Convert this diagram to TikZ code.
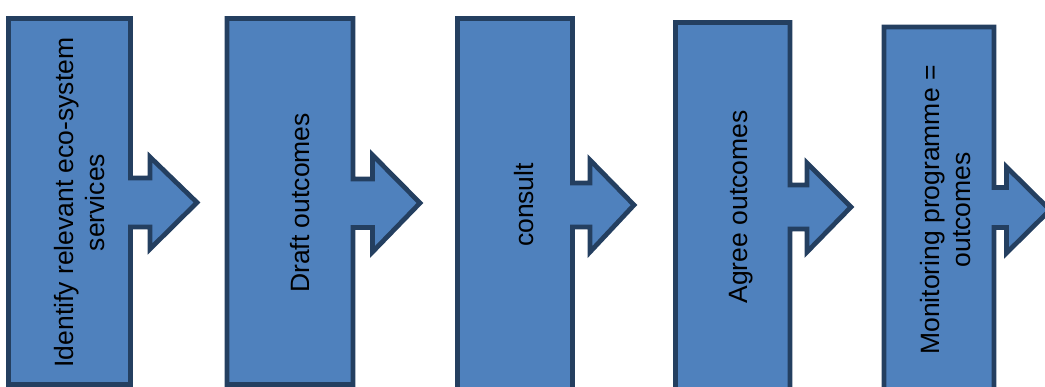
\documentclass[tikz,border=0pt]{standalone}
\usepackage{fontspec}
\setmainfont{Liberation Sans}
\definecolor{boxfill}{HTML}{4F81BD}
\definecolor{boxline}{HTML}{243F60}
\tikzset{
  stepshape/.style={fill=boxfill, draw=boxline, line width=4.75pt, line join=miter},
  steplabel/.style={rotate=90, align=center, inner sep=0pt,
    font=\fontsize{26.5}{31}\selectfont}
}
\begin{document}
\begin{tikzpicture}[x=1pt,y=-1pt]
\useasboundingbox (0,0) rectangle (1045,387);
% left/right/top/bottom of the box, neck top/bottom, head base x, head top/bottom, tip x, centre line y
\foreach \l/\r/\t/\b/\na/\nb/\h/\ha/\hb/\p/\c/\nm/\txt in {
  8.5/130.5/18.5/384.5/178/227/150/157/249/197/202.5/s1/{Identify relevant eco-system\\services},
  227/353/18.5/384.5/179/227.5/372.5/155/252/420/203/s2/{Draft outcomes},
  457.5/572.5/18.5/392/183/227/590/160/252/634/205/s3/{consult},
  675.5/790/22.5/392/185/229/807/163/252/851/207/s4/{Agree outcomes},
  884/994/27/395/187.5/227.5/1006.5/167/253/1050/210/s5/{Monitoring programme =\\outcomes}}
{
  \draw[stepshape] (\l,\b) -- (\l,\t) -- (\r,\t) -- (\r,\na) -- (\h,\na)
    -- (\h,\ha) -- (\p,\c) -- (\h,\hb) -- (\h,\nb) -- (\r,\nb) -- (\r,\b) -- cycle;
  \node[steplabel] (\nm) at ({(\l+\h)/2},\c) {\txt};
}
\end{tikzpicture}
\end{document}
